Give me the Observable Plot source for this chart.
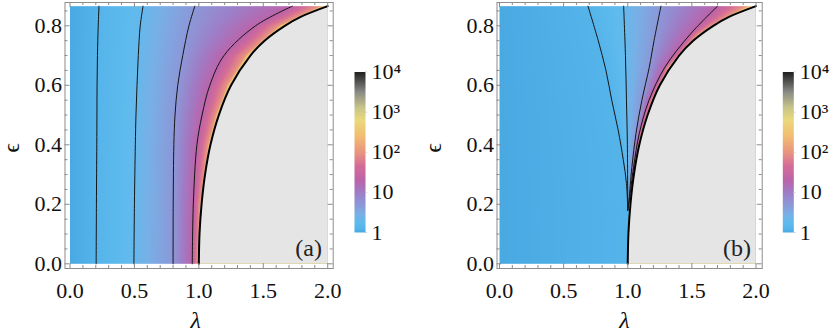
<!DOCTYPE html>
<html><head><meta charset="utf-8">
<script src="https://cdn.jsdelivr.net/npm/d3@7"></script>
<script src="https://cdn.jsdelivr.net/npm/@observablehq/plot@0.6"></script>
<style>
body{margin:0;background:#fff;}
#wrap{display:flex;width:830px;height:332px;overflow:hidden;background:#fff}
#wrap > div{flex:none;height:332px;overflow:visible;position:relative}
svg{display:block;overflow:visible}
</style></head><body>
<div id="wrap"><div id="pa" style="width:335px"></div><div id="ca" style="width:85px"></div><div id="pb" style="width:350px"></div><div id="cb" style="width:60px"></div></div>
<script>
// ---------- data ----------
// contour levels as log10(value): 1.25, 2, 5, 20 ; helper level 100 near the edge
const contourLevels = [0.097, 0.301, 0.699, 1.301];
const nearEdgeLevel = 2.0;
const edgeLevel = 3.0;

// critical boundary (shared by both panels): epsilon -> lambda
const boundaryEps = [0, 0.1, 0.2, 0.3, 0.4, 0.5, 0.6, 0.7, 0.75, 0.8, 0.83, 0.866];
const boundaryLam = [1.0, 1.005, 1.021, 1.048, 1.09, 1.155, 1.25, 1.40, 1.51, 1.667, 1.79, 2.0];

// panel (a) contour lines
const aEps = [0, 0.2, 0.4, 0.5, 0.6, 0.7, 0.8, 0.866];
const aC1 = [0.203, 0.205, 0.208, 0.209, 0.21, 0.213, 0.219, 0.225];
const aC2 = [0.496, 0.500, 0.507, 0.512, 0.52, 0.53, 0.545, 0.567];
const aC3 = [0.80, 0.801, 0.806, 0.815, 0.836, 0.875, 0.923, 0.969];
const aC4 = [0.949, 0.957, 0.985, 1.025, 1.085, 1.195, 1.44, 1.726];
const aC100 = [0.99, 1.01, 1.07, 1.13, 1.218, 1.36, 1.62, 1.94];

// panel (b) contour lines
const bAEps = [0.18, 0.27, 0.35, 0.45, 0.55, 0.65, 0.75, 0.866];
const bA = [1.0, 0.99, 0.965, 0.925, 0.875, 0.83, 0.77, 0.69];
const bBEps = [0.18, 0.4, 0.55, 0.7, 0.866];
const bB = [1.0, 0.997, 0.99, 0.982, 0.968];
const bCEps = [0.18, 0.213, 0.324, 0.438, 0.549, 0.661, 0.75, 0.866];
const bC = [1.0, 1.009, 1.032, 1.064, 1.11, 1.168, 1.205, 1.259];
const bDEps = [0.18, 0.213, 0.324, 0.438, 0.549, 0.661, 0.773, 0.866];
const bD = [1.0, 1.012, 1.045, 1.09, 1.165, 1.29, 1.49, 1.70];
const b100Eps = [0.18, 0.213, 0.324, 0.438, 0.549, 0.661, 0.773, 0.866];
const b100 = [1.005, 1.019, 1.053, 1.104, 1.188, 1.318, 1.552, 1.92];

// ticks
const xMajor = [0, 0.5, 1.0, 1.5, 2.0];
const xMinor = [0.1, 0.2, 0.3, 0.4, 0.6, 0.7, 0.8, 0.9, 1.1, 1.2, 1.3, 1.4, 1.6, 1.7, 1.8, 1.9];
const yMajor = [0, 0.2, 0.4, 0.6, 0.8];
const yMinor = [0.05, 0.1, 0.15, 0.25, 0.3, 0.35, 0.45, 0.5, 0.55, 0.65, 0.7, 0.75, 0.85];
const cbExp = [0, 1, 2, 3, 4];
const cbLabels = ["1", "10", "10²", "10³", "10⁴"];

// colour map (log10 value -> colour)
const colorStops = [0, 0.1, 0.25, 0.45, 0.7, 1.0, 1.3, 1.65, 2.0, 2.4, 2.8, 3.1, 3.5, 4.0];
const colorRange = ["#49a9e2","#55b4ea","#5fbbee","#78b0e6","#8c98d8","#a07cc6","#bb64aa","#d46c98","#e9957f","#f2bd72","#ead97c","#c8c688","#8a8a86","#1e1e1e"];

// ---------- helpers ----------
const FONT = "Liberation Serif";
const frameColor = "#8c8c8c";
const pts = (eps, lam, v) => eps.map((e, i) => ({e, l: lam[i], v}));
const colorScale = {type: "linear", domain: colorStops, range: colorRange, interpolate: "rgb", clamp: true};

function interp(xs, ys, x) {
  if (x <= xs[0]) return ys[0];
  for (let i = 1; i < xs.length; ++i) {
    if (x <= xs[i]) { const t = (x - xs[i - 1]) / (xs[i] - xs[i - 1]); return ys[i - 1] + t * (ys[i] - ys[i - 1]); }
  }
  return ys[ys.length - 1];
}
const edgeLam = e => interp(boundaryEps, boundaryLam, e);

// density between the read contour lines (linear in log10 value along lambda)
function makeField(curves) {
  return (l, e) => {
    const lb = edgeLam(e);
    if (l >= lb) return edgeLevel;
    let px = 0, pv = 0;
    for (const c of curves) {
      let cx = e < c.eps[0] ? lb : interp(c.eps, c.lam, e);
      cx = Math.min(Math.max(cx, px), lb);
      if (l < cx) return pv + (c.v - pv) * (l - px) / (cx - px);
      px = cx; pv = c.v;
    }
    return lb > px ? pv + (edgeLevel - pv) * (l - px) / (lb - px) : edgeLevel;
  };
}

function panel(cfg) {
  const pxX = (cfg.dataR - cfg.dataL) / 2;
  const pxY = 297.5;
  const xDom = [(cfg.frameL - cfg.dataL) / pxX, 2 + (cfg.frameR - cfg.dataR) / pxX];
  const yDom = [-(268 - 263.3) / pxY, (263.3 - 2) / pxY];
  const [xLo, xHi] = xDom, [yLo, yHi] = yDom;
  const lineMarks = cfg.lines.map(c => Plot.line(pts(c.eps, c.lam), {x: "l", y: "e", curve: "catmull-rom", stroke: "#151515", strokeWidth: 1}));
  const boundary = pts(boundaryEps, boundaryLam);
  const txt = {fontFamily: FONT, fill: "#111"};
  return Plot.plot({
    width: cfg.width, height: 332,
    marginLeft: cfg.frameL, marginRight: cfg.width - cfg.frameR, marginTop: 2, marginBottom: 64,
    x: {domain: xDom, axis: null},
    y: {domain: yDom, axis: null},
    color: colorScale,
    style: {fontFamily: FONT, background: "transparent", overflow: "visible"},
    marks: [
      Plot.raster({fill: makeField(cfg.field), x1: 0, x2: 2, y1: 0, y2: 0.866, pixelSize: 1}),
      Plot.areaX(boundary, {y: "e", x1: "l", x2: 2, fill: "#e5e5e5", curve: "catmull-rom"}),
      ...lineMarks,
      Plot.line(boundary, {x: "l", y: "e", curve: "catmull-rom", stroke: "#000", strokeWidth: 2}),
      Plot.frame({stroke: frameColor}),
      Plot.ruleX(xMajor, {x: d => d, y1: yLo, y2: yLo + 5 / pxY, stroke: frameColor}),
      Plot.ruleX(xMinor, {x: d => d, y1: yLo, y2: yLo + 3 / pxY, stroke: frameColor}),
      Plot.ruleX(xMajor, {x: d => d, y1: yHi, y2: yHi - 5 / pxY, stroke: frameColor}),
      Plot.ruleX(xMinor, {x: d => d, y1: yHi, y2: yHi - 3 / pxY, stroke: frameColor}),
      Plot.ruleY(yMajor, {y: d => d, x1: xLo, x2: xLo + 5 / pxX, stroke: frameColor}),
      Plot.ruleY(yMinor, {y: d => d, x1: xLo, x2: xLo + 3 / pxX, stroke: frameColor}),
      Plot.ruleY(yMajor, {y: d => d, x1: xHi, x2: xHi - 5 / pxX, stroke: frameColor}),
      Plot.ruleY(yMinor, {y: d => d, x1: xHi, x2: xHi - 3 / pxX, stroke: frameColor}),
      Plot.text(xMajor, {x: d => d, text: d => d3.format(".1f")(d), frameAnchor: "bottom", dy: 22, lineAnchor: "middle", fontSize: 22, ...txt}),
      Plot.text(yMajor, {y: d => d, text: d => d3.format(".1f")(d), frameAnchor: "left", dx: -3, textAnchor: "end", lineAnchor: "middle", fontSize: 22, ...txt}),
      Plot.text(["λ"], {x: () => cfg.lamLabelX, frameAnchor: "bottom", dy: 52, lineAnchor: "middle", fontSize: 24, fontStyle: "italic", ...txt}),
      Plot.text(["ϵ"], {y: () => 0.374, frameAnchor: "left", dx: cfg.epsDx, rotate: -90, lineAnchor: "middle", fontSize: 23, ...txt}),
      Plot.text([cfg.tag], {x: () => 1.852, y: () => 0.053, lineAnchor: "middle", fontSize: 24, fontFamily: FONT, fill: "#222"})
    ]
  });
}

function colorbar(cfg) {
  return Plot.plot({
    width: cfg.width, height: 332,
    marginLeft: cfg.barL, marginRight: cfg.width - cfg.barR, marginTop: 71.5, marginBottom: 100,
    x: {domain: [0, 1], axis: null},
    y: {domain: [0, 4], axis: null},
    color: colorScale,
    style: {fontFamily: FONT, background: "transparent", overflow: "visible"},
    marks: [
      Plot.raster({fill: (x, y) => y, x1: 0, x2: 1, y1: 0, y2: 4, pixelSize: 1}),
      Plot.ruleY(cbExp, {y: d => d, x1: 1, x2: 1.2, stroke: "#d0d0d0"}),
      Plot.text(cbLabels, {y: (d, i) => cbExp[i], frameAnchor: "right", dx: 6, textAnchor: "start", lineAnchor: "middle", fontSize: 22, fontFamily: FONT, fill: "#111"})
    ]
  });
}

const aField = [
  {eps: aEps, lam: aC1, v: contourLevels[0]},
  {eps: aEps, lam: aC2, v: contourLevels[1]},
  {eps: aEps, lam: aC3, v: contourLevels[2]},
  {eps: aEps, lam: aC4, v: contourLevels[3]},
  {eps: aEps, lam: aC100, v: nearEdgeLevel}
];
const bField = [
  {eps: bAEps, lam: bA, v: contourLevels[0]},
  {eps: bBEps, lam: bB, v: contourLevels[1]},
  {eps: bCEps, lam: bC, v: contourLevels[2]},
  {eps: bDEps, lam: bD, v: contourLevels[3]},
  {eps: b100Eps, lam: b100, v: nearEdgeLevel}
];

document.getElementById("pa").append(panel({
  width: 335, frameL: 64.5, frameR: 332.7, dataL: 69.5, dataR: 327.2,
  field: aField, lines: aField.slice(0, 4),
  tag: "(a)", lamLabelX: 0.975, epsDx: -53
}));
document.getElementById("ca").append(colorbar({width: 85, barL: 19, barR: 30}));
document.getElementById("pb").append(panel({
  width: 350, frameL: 76.5, frameR: 341.7, dataL: 79, dataR: 335.5,
  field: bField, lines: bField.slice(0, 4),
  tag: "(b)", lamLabelX: 0.975, epsDx: -63
}));
document.getElementById("cb").append(colorbar({width: 60, barL: 12.3, barR: 23.3}));
</script></body></html>
